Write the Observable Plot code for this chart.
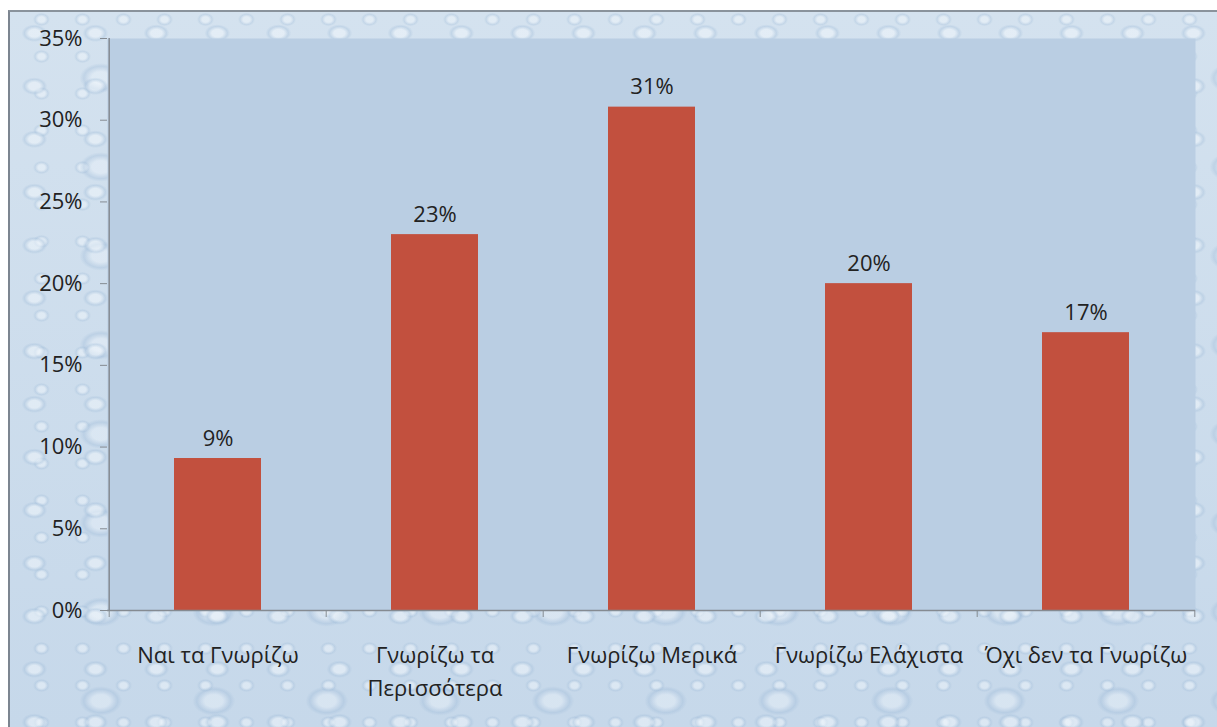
<!DOCTYPE html>
<html>
<head>
<meta charset="utf-8">
<script src="https://cdn.jsdelivr.net/npm/d3@7"></script>
<script src="https://cdn.jsdelivr.net/npm/@observablehq/plot@0.6"></script>
<style>
  html, body { margin: 0; padding: 0; background: #ffffff; }
  #wrap { position: relative; width: 1217px; height: 727px; overflow: hidden; }
  #bg {
    position: absolute; left: 8px; top: 10px; right: 0; bottom: 0;
    border-left: 2px solid #7c8590; border-top: 2px solid #8a939c;
    background-color: #cddcea;
    background-image:
      radial-gradient(ellipse 16px 11px at 40% 40%, rgba(240,246,251,0.55) 0 35%, rgba(160,188,216,0.35) 62%, rgba(205,220,234,0) 80%),
      radial-gradient(ellipse 26px 18px at 60% 55%, rgba(236,243,250,0.45) 0 35%, rgba(150,180,212,0.3) 65%, rgba(205,220,234,0) 82%),
      radial-gradient(ellipse 10px 8px at 50% 50%, rgba(240,246,251,0.5) 0 35%, rgba(160,188,216,0.3) 65%, rgba(205,220,234,0) 85%),
      linear-gradient(180deg, #d4e2ef, #c6d8ea);
    background-size: 61px 53px, 113px 89px, 41px 37px, 100% 100%;
    background-position: 0 0, 23px 17px, 11px 26px, 0 0;
  }
  #chart { position: absolute; left: 0; top: 0; }
</style>
</head>
<body>
<div id="wrap"><div id="bg"></div><div id="chart"></div></div>
<script>
const categories = ["Ναι τα Γνωρίζω", "Γνωρίζω τα Περισσότερα", "Γνωρίζω Μερικά", "Γνωρίζω Ελάχιστα", "Όχι δεν τα Γνωρίζω"];
const values = [0.093, 0.23, 0.308, 0.20, 0.17];
const valueLabels = ["9%", "23%", "31%", "20%", "17%"];
const yTicks = [0, 0.05, 0.10, 0.15, 0.20, 0.25, 0.30, 0.35];

const data = categories.map((c, i) => ({category: c, value: values[i], label: valueLabels[i]}));

const W = 1217, H = 727;
const mL = 107, mR = 22, mT = 38, mB = 117;
const step = (W - mL - mR) / categories.length;
const font = "'Open Sans', 'Noto Sans', sans-serif";
const axisColor = "#858b92";

const chart = Plot.plot({
  width: W,
  height: H,
  marginLeft: mL,
  marginRight: mR,
  marginTop: mT,
  marginBottom: mB,
  style: {background: "transparent", fontFamily: font, fontSize: "22px", color: "#222"},
  x: {domain: categories, paddingInner: 0.6, paddingOuter: 0.3, label: null},
  y: {domain: [0, 0.35], label: null},
  marks: [
    Plot.frame({fill: "#bacee3", stroke: null}),
    Plot.barY(data, {x: "category", y: "value", fill: "#c2503e"}),
    Plot.text(data, {x: "category", y: "value", text: "label", dy: -13, lineAnchor: "bottom", fontSize: 22, fill: "#222"}),
    Plot.ruleY([0], {stroke: axisColor, strokeWidth: 1.5}),
    Plot.ruleX([categories[0]], {dx: -step / 2, stroke: axisColor, strokeWidth: 1.5}),
    Plot.axisY({ticks: yTicks, tickFormat: d3.format(".0%"), tickSize: 7, tickPadding: 18, stroke: axisColor, fontSize: 22, fill: "#222", label: null}),
    Plot.axisX({tickSize: 7, dx: -step / 2, text: null, stroke: axisColor, label: null}),
    Plot.axisX([categories[categories.length - 1]], {tickSize: 7, dx: step / 2, text: null, stroke: axisColor, label: null}),
    Plot.axisX({tickSize: 0, tickPadding: 29, lineAnchor: "top", lineHeight: 1.5, fontSize: 22, fill: "#222", label: null,
      tickFormat: d => d === "Γνωρίζω τα Περισσότερα" ? "Γνωρίζω τα\nΠερισσότερα" : d})
  ]
});
document.getElementById("chart").appendChild(chart);
</script>
</body>
</html>
